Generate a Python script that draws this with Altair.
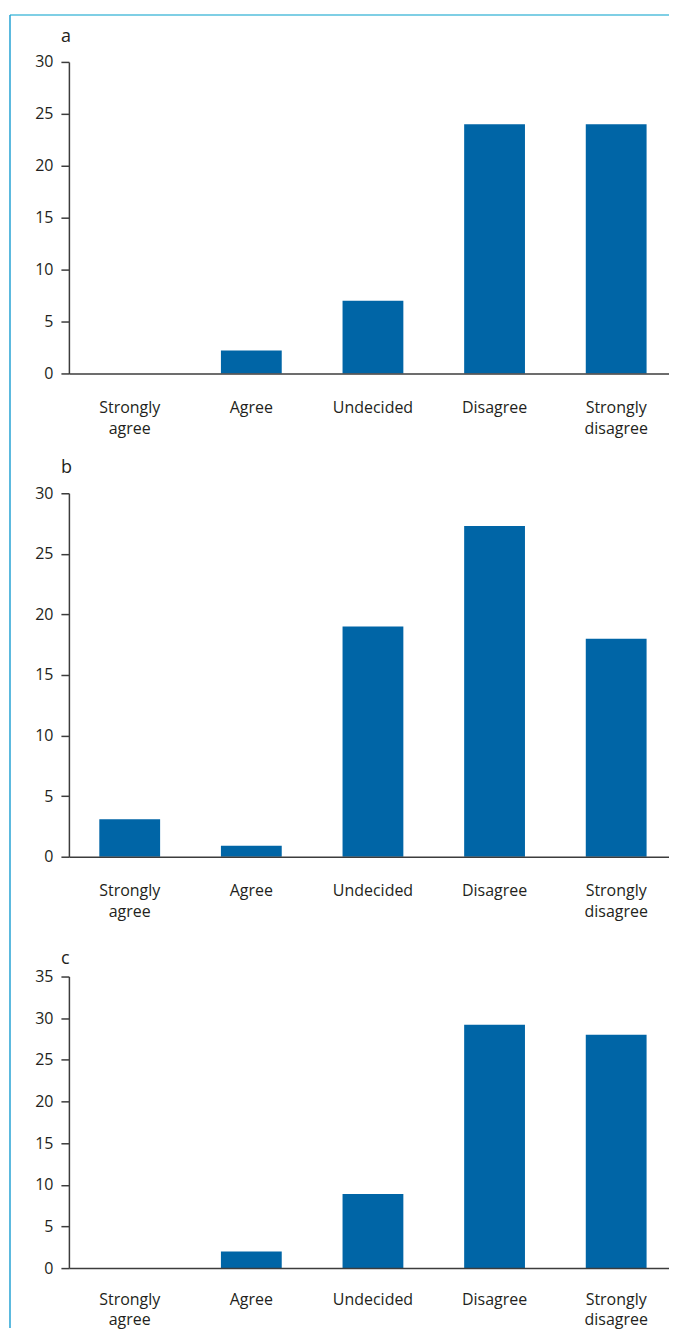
import altair as alt
import pandas as pd

categories = ["Strongly agree", "Agree", "Undecided", "Disagree", "Strongly disagree"]
values_a = [0, 2.2, 7.0, 24.0, 24.0]
values_b = [3.1, 0.9, 19.0, 27.3, 18.0]
values_c = [0, 2.0, 8.9, 29.2, 28.0]
panel_letters = ["a", "b", "c"]
y_max = [30, 30, 35]

FONT = "Open Sans"
BAR = "#0065a6"
INK = "#231f20"
AXIS = "#3c3c3c"
W = 609
heights = [312, 364, 292]
letter_y = [-20, -20, -13]
label_pad = [26, 26, 23]


def panel(vals, letter, ymax, h, ly, lp, border=False):
    df = pd.DataFrame({"category": categories, "value": vals})
    bars = alt.Chart(df).mark_bar(color=BAR).encode(
        x=alt.X(
            "category:N",
            sort=categories,
            scale=alt.Scale(paddingInner=0.5, paddingOuter=0.25),
            axis=alt.Axis(
                title=None, labelAngle=0, ticks=False, tickSize=0,
                labelPadding=lp, labelExpr="split(datum.label, ' ')",
                labelLineHeight=21, labelFontSize=16, labelFont=FONT,
                labelColor=INK, domainColor=AXIS, domainWidth=1.5, zindex=1,
            ),
        ),
        y=alt.Y(
            "value:Q",
            scale=alt.Scale(domain=[0, ymax], nice=False),
            axis=alt.Axis(
                title=None, values=list(range(0, ymax + 1, 5)), grid=False,
                tickSize=8, tickWidth=1.5, tickColor=AXIS, labelPadding=8,
                labelFontSize=16, labelFont=FONT, labelColor=INK,
                domainColor=AXIS, domainWidth=1.5,
            ),
        ),
    )
    txt = alt.Chart(pd.DataFrame({"t": [letter]})).mark_text(
        align="left", baseline="alphabetic", fontSize=18, font=FONT, color=INK
    ).encode(x=alt.value(-8), y=alt.value(ly), text="t:N")
    layers = [bars, txt]
    if border:
        one = pd.DataFrame({"k": [0]})
        top = alt.Chart(one).mark_rule(color="#7fcfe5", strokeWidth=2).encode(
            x=alt.value(-59), x2=alt.value(W), y=alt.value(-47)
        )
        left = alt.Chart(one).mark_rule(color="#25a3d4", strokeWidth=1.5).encode(
            x=alt.value(-59), y=alt.value(-47), y2=alt.value(1268)
        )
        layers += [top, left]
    return alt.layer(*layers).properties(width=W, height=h)


panels = [
    panel(v, panel_letters[i], y_max[i], heights[i], letter_y[i], label_pad[i],
          border=(i == 0))
    for i, v in enumerate([values_a, values_b, values_c])
]

chart = alt.vconcat(*panels, spacing=120, bounds="flush").properties(
    padding={"left": 1, "top": 5, "right": -9, "bottom": 0}
).configure_view(stroke=None)

chart.save("out.html", embed_options={"renderer": "svg", "actions": False})
